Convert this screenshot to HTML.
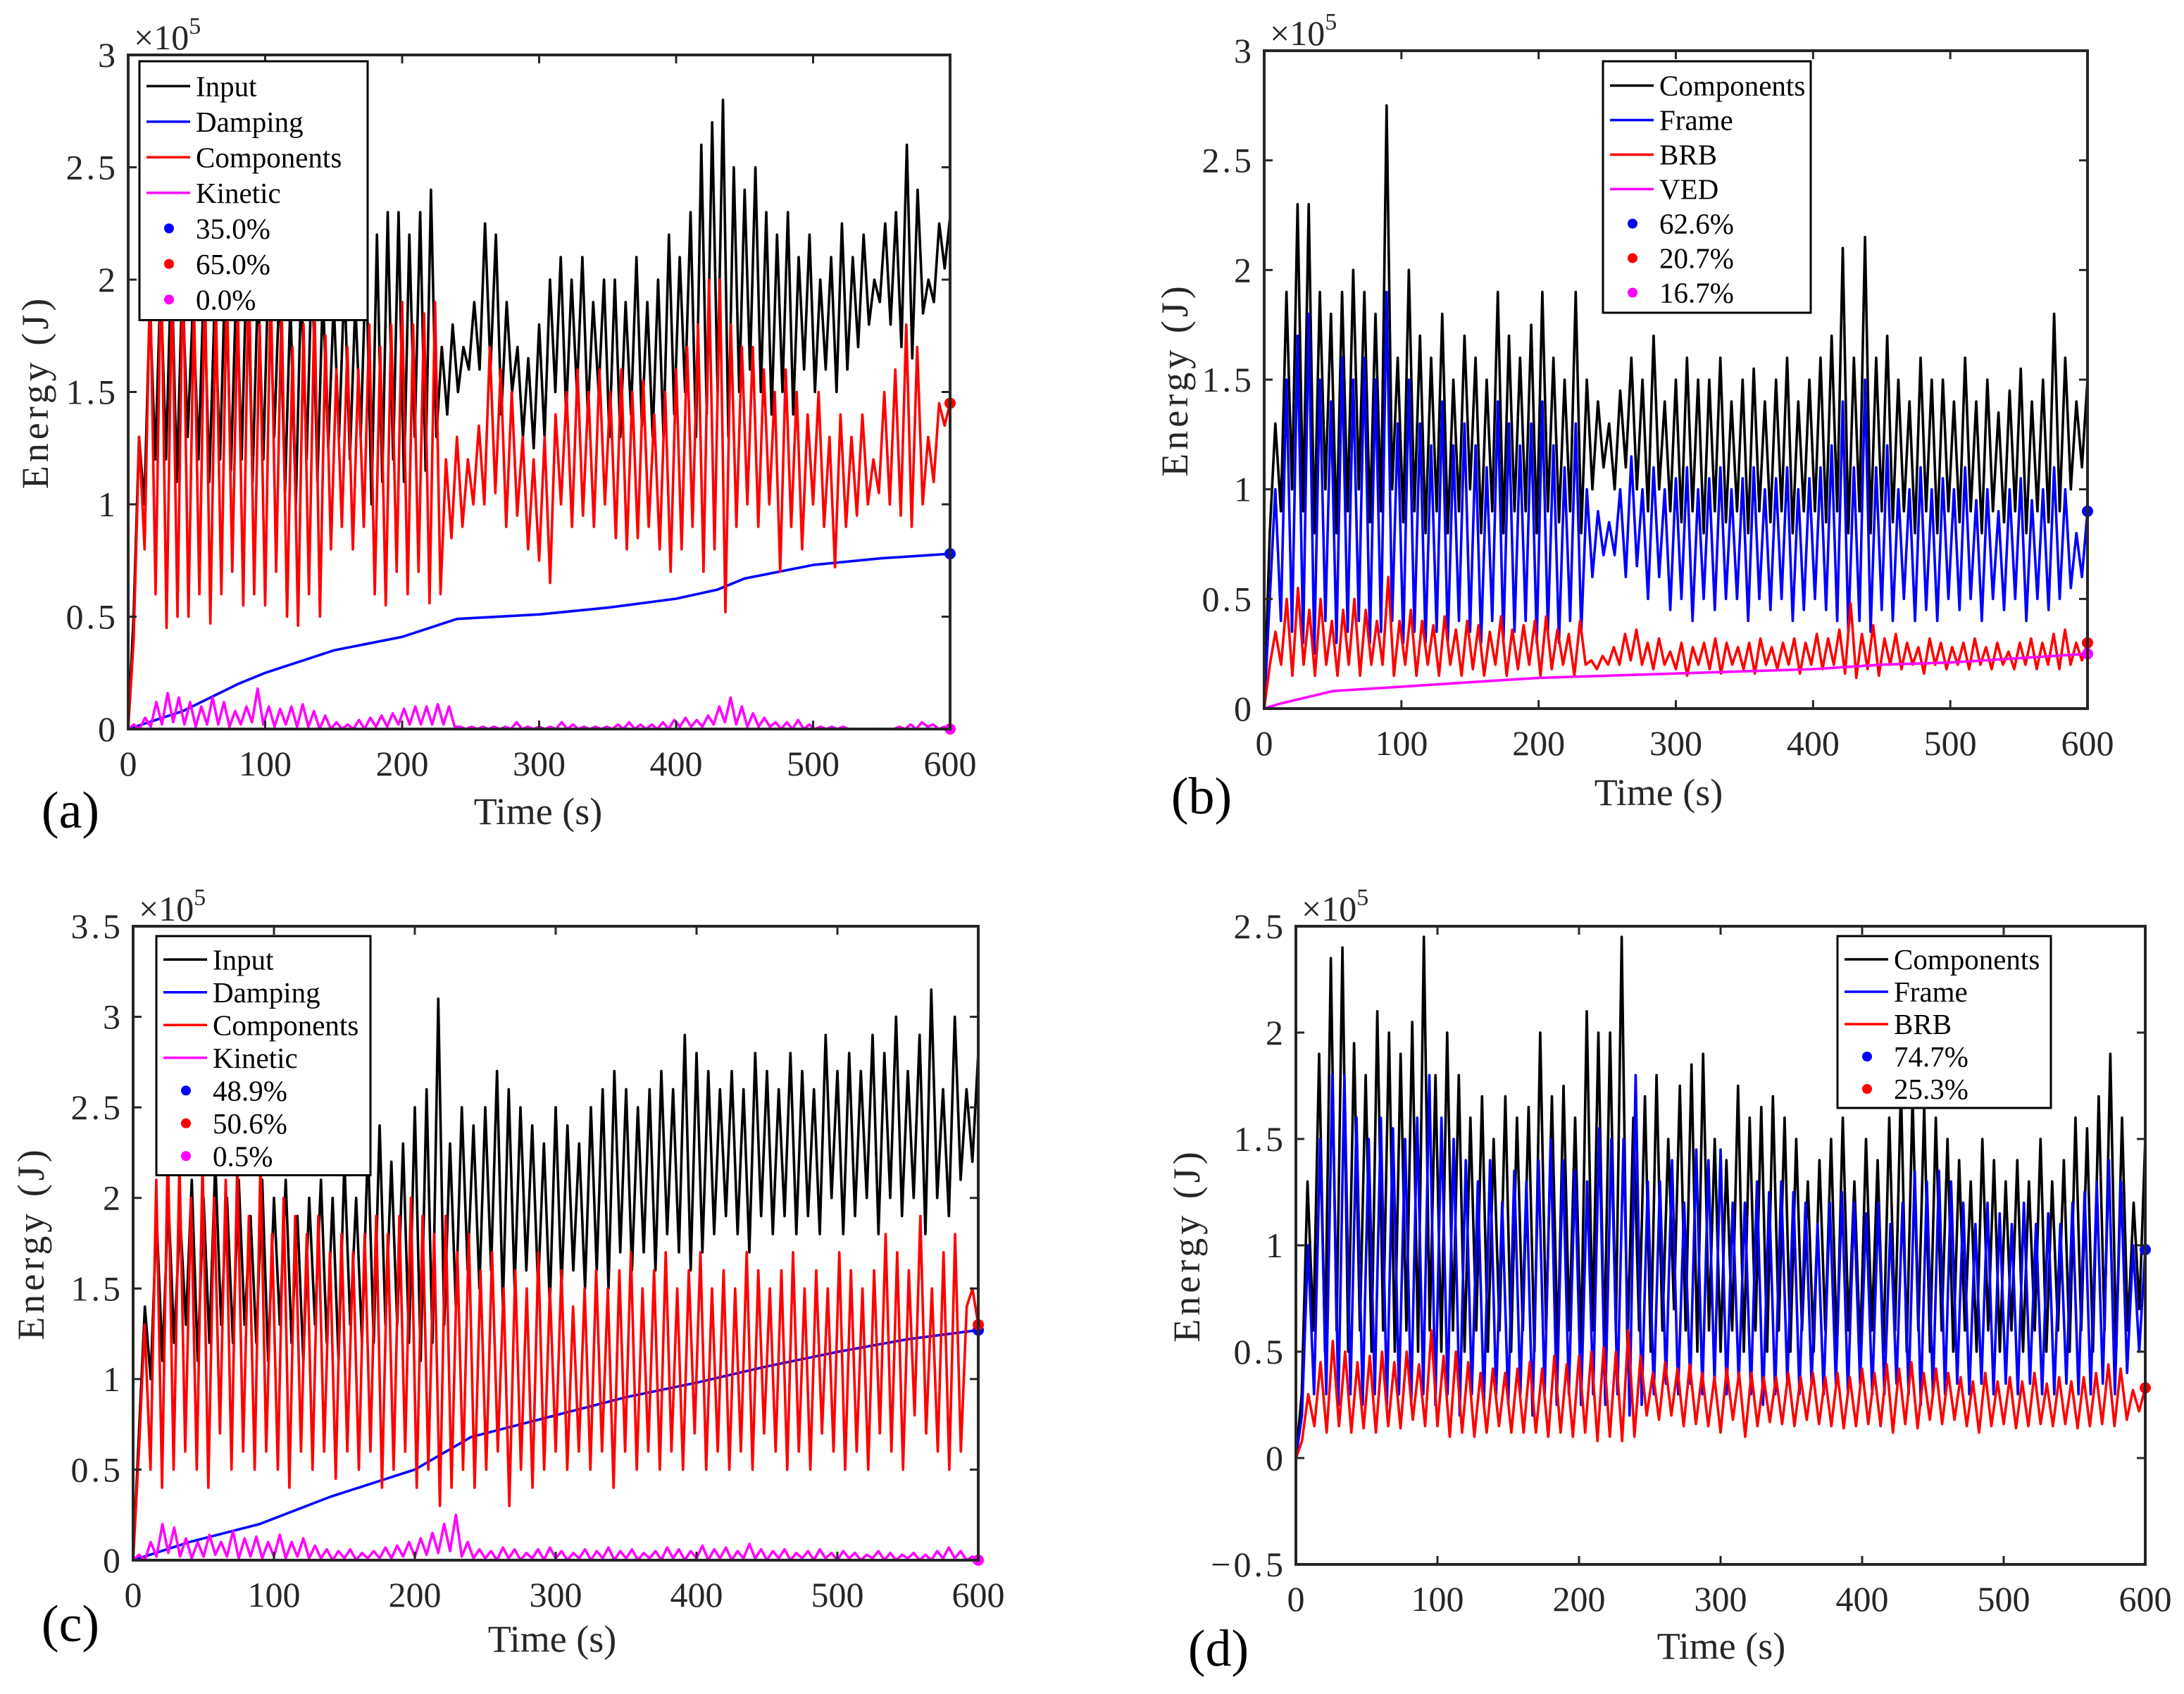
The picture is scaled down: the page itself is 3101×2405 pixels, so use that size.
<!DOCTYPE html>
<html><head><meta charset="utf-8"><style>
html,body{margin:0;padding:0;background:#fff;}
svg{display:block;font-family:"Liberation Serif","Noto Serif CJK SC",serif;}
</style></head><body>
<svg id="fig" width="3101" height="2405" viewBox="0 0 3101 2405" xmlns="http://www.w3.org/2000/svg"></svg>
<script>
// ---------- data (units: 1e5 J) ----------
const xTicks=[0,100,200,300,400,500,600];
const aYTicks=[0,0.5,1,1.5,2,2.5,3];
const bYTicks=[0,0.5,1,1.5,2,2.5,3];
const cYTicks=[0,0.5,1,1.5,2,2.5,3,3.5];
const dYTicks=[-0.5,0,0.5,1,1.5,2,2.5];

const aInput=[0,0.5,1.3,1.0,1.9,1.2,2.0,1.2,2.1,1.1,2.0,1.3,1.9,1.2,2.0,1.1,1.9,1.2,2.1,1.15,2.0,1.2,2.2,1.1,2.0,1.2,2.1,1.3,2.0,1.05,1.9,1.0,2.0,1.2,2.1,1.1,1.95,1.25,1.9,1.3,2.0,1.2,1.9,1.3,2.1,1.0,2.2,1.1,2.3,1.2,2.3,1.1,2.2,1.3,2.3,1.15,2.4,1.3,1.7,1.4,1.8,1.5,1.7,1.6,1.9,1.6,2.25,1.6,2.2,1.4,1.9,1.5,1.7,1.3,1.65,1.25,1.8,1.3,2.0,1.5,2.1,1.4,2.0,1.5,2.1,1.4,1.9,1.5,2.0,1.3,2.0,1.3,1.9,1.4,2.1,1.35,1.9,1.3,2.0,1.3,2.2,1.4,2.1,1.5,2.3,1.3,2.6,1.4,2.7,1.5,2.8,1.3,2.5,1.5,2.4,1.6,2.5,1.5,2.3,1.4,2.2,1.5,2.3,1.4,2.1,1.6,2.2,1.5,2.0,1.6,2.1,1.5,2.25,1.6,2.1,1.7,2.2,1.8,2.0,1.9,2.25,1.8,2.3,1.7,2.6,1.65,2.4,1.85,2.0,1.9,2.25,2.05,2.28];
const aComp=[0,0.4,1.3,0.8,2.0,0.6,2.1,0.45,2.0,0.5,2.1,0.5,1.9,0.6,2.0,0.47,1.9,0.6,2.0,0.7,1.9,0.55,2.1,0.6,1.8,0.55,2.0,0.7,1.9,0.5,1.7,0.46,1.8,0.6,1.9,0.5,1.75,0.8,1.6,0.9,1.7,0.8,1.6,0.9,1.8,0.6,1.7,0.55,1.8,0.7,1.9,0.6,1.8,0.7,1.85,0.56,1.9,0.6,1.2,0.85,1.3,0.9,1.2,1.0,1.35,1.0,1.7,1.05,1.6,0.9,1.5,0.95,1.3,0.8,1.2,0.75,1.3,0.65,1.4,1.0,1.5,0.9,1.6,0.95,1.5,0.9,1.6,1.0,1.5,0.85,1.6,0.8,1.5,0.85,1.55,0.9,1.4,0.8,1.5,0.7,1.6,0.8,1.7,0.9,1.8,0.7,2.0,0.8,2.0,0.52,1.8,0.9,1.7,1.0,1.7,0.9,1.6,1.0,1.5,0.7,1.6,0.9,1.5,0.8,1.4,1.0,1.5,0.9,1.3,0.72,1.4,0.9,1.3,0.95,1.4,1.0,1.2,1.05,1.5,1.0,1.6,0.95,1.8,0.9,1.7,1.0,1.3,1.1,1.45,1.35,1.45];
const aDampT=[0,40,80,100,150,200,240,300,350,400,430,450,500,550,600];
const aDamp=[0,0.08,0.2,0.25,0.35,0.41,0.49,0.51,0.54,0.58,0.62,0.67,0.73,0.76,0.78];
const aKin=[0,0.02,0,0.05,0.01,0.12,0.02,0.16,0.03,0.14,0.02,0.12,0.01,0.1,0.02,0.14,0.02,0.12,0.01,0.08,0.02,0.1,0.03,0.18,0.02,0.1,0.01,0.09,0.02,0.1,0.01,0.11,0.01,0.08,0,0.06,0,0.03,0,0.02,0,0.04,0,0.05,0.01,0.06,0.01,0.07,0.02,0.09,0.02,0.1,0.02,0.1,0.02,0.11,0.02,0.1,0.01,0.01,0,0.01,0,0.01,0,0.01,0,0.01,0,0.03,0,0.01,0,0.01,0,0.01,0,0.03,0,0.02,0,0.01,0,0.01,0,0.01,0,0.02,0,0.03,0,0.02,0,0.02,0,0.03,0,0.04,0.01,0.05,0.01,0.04,0.01,0.06,0.02,0.1,0.03,0.14,0.02,0.1,0.01,0.07,0.01,0.05,0.01,0.03,0,0.03,0,0.04,0,0.02,0,0.01,0,0.01,0,0.01,0,0,0,0,0,0,0,0,0,0.01,0,0.02,0,0.03,0.01,0.02,0,0.01,0];

const bComp=[0,0.8,1.3,0.9,1.9,1.0,2.3,0.9,2.3,0.8,1.9,1.0,1.8,0.8,1.9,0.9,2.0,1.0,1.9,0.85,1.8,0.9,2.75,1.0,1.6,0.85,2.0,0.9,1.7,0.8,1.6,0.9,1.8,0.8,1.5,0.9,1.7,1.0,1.6,0.8,1.5,0.9,1.9,0.8,1.7,0.9,1.6,0.9,1.75,0.8,1.9,0.9,1.6,0.85,1.5,0.9,1.9,0.8,1.5,1.0,1.4,1.1,1.3,1.0,1.45,1.1,1.6,1.0,1.5,0.9,1.7,1.0,1.4,0.9,1.5,0.85,1.6,0.9,1.5,0.8,1.5,0.9,1.6,0.85,1.4,0.9,1.5,0.8,1.55,0.9,1.4,0.85,1.5,0.9,1.6,0.8,1.4,0.9,1.5,0.9,1.6,0.85,1.7,0.9,2.1,0.8,1.6,0.9,2.15,0.8,1.6,0.9,1.7,0.85,1.5,0.9,1.4,0.8,1.6,0.9,1.5,0.8,1.5,0.9,1.4,0.85,1.6,0.9,1.4,0.8,1.5,0.9,1.35,0.85,1.45,0.9,1.55,0.8,1.4,0.9,1.5,0.85,1.8,0.9,1.6,1.0,1.4,1.1,1.5];
const bFrame=[0,0.5,1.0,0.4,1.5,0.35,1.7,0.3,1.8,0.25,1.5,0.4,1.4,0.3,1.6,0.35,1.5,0.4,1.6,0.3,1.5,0.35,1.9,0.4,1.3,0.3,1.5,0.35,1.3,0.3,1.2,0.35,1.4,0.3,1.2,0.4,1.3,0.35,1.2,0.3,1.1,0.4,1.4,0.3,1.3,0.35,1.2,0.4,1.3,0.3,1.4,0.35,1.2,0.3,1.1,0.4,1.3,0.35,1.0,0.6,0.9,0.7,0.85,0.7,1.0,0.6,1.15,0.65,1.0,0.5,1.1,0.6,1.0,0.45,1.05,0.5,1.1,0.4,1.0,0.5,1.05,0.45,1.1,0.5,1.0,0.5,1.05,0.4,1.1,0.5,1.0,0.45,1.05,0.5,1.1,0.4,1.0,0.45,1.05,0.5,1.1,0.45,1.2,0.4,1.4,0.35,1.1,0.4,1.5,0.35,1.1,0.45,1.2,0.4,1.0,0.5,1.0,0.4,1.1,0.45,1.0,0.4,1.05,0.5,1.0,0.45,1.1,0.5,0.95,0.4,1.0,0.5,0.9,0.45,1.0,0.5,1.05,0.4,0.95,0.5,1.0,0.45,1.1,0.5,1.0,0.55,0.8,0.6,0.9];
const bBrb=[0,0.2,0.35,0.2,0.5,0.15,0.55,0.2,0.45,0.15,0.5,0.2,0.4,0.15,0.45,0.2,0.5,0.15,0.45,0.2,0.4,0.2,0.6,0.15,0.4,0.2,0.45,0.15,0.4,0.2,0.38,0.15,0.42,0.2,0.36,0.15,0.4,0.18,0.38,0.15,0.35,0.2,0.42,0.15,0.36,0.18,0.38,0.2,0.4,0.15,0.42,0.18,0.36,0.2,0.34,0.15,0.4,0.2,0.22,0.18,0.24,0.2,0.28,0.2,0.34,0.22,0.36,0.2,0.3,0.18,0.32,0.2,0.26,0.18,0.3,0.15,0.28,0.2,0.3,0.18,0.32,0.16,0.3,0.2,0.28,0.18,0.3,0.16,0.32,0.2,0.28,0.18,0.3,0.2,0.32,0.16,0.3,0.2,0.34,0.18,0.32,0.2,0.36,0.16,0.48,0.14,0.34,0.18,0.38,0.15,0.32,0.2,0.34,0.18,0.3,0.2,0.28,0.16,0.32,0.2,0.3,0.18,0.28,0.2,0.3,0.18,0.32,0.2,0.28,0.18,0.3,0.2,0.26,0.18,0.3,0.2,0.32,0.18,0.3,0.2,0.34,0.18,0.36,0.2,0.3,0.22,0.3];
const bVedT=[0,10,50,100,150,200,250,300,350,400,450,500,550,600];
const bVed=[0,0.02,0.08,0.1,0.12,0.14,0.15,0.16,0.17,0.18,0.2,0.21,0.23,0.25];

const cInput=[0,0.7,1.4,1.0,1.9,1.1,2.0,1.2,1.9,1.3,2.1,1.1,2.0,1.2,2.2,1.3,2.0,1.2,2.1,1.3,1.9,1.2,2.1,1.1,2.0,1.3,2.1,1.2,1.9,1.1,2.0,1.3,2.1,1.2,2.0,1.1,2.2,1.3,2.0,1.2,2.3,1.2,2.4,1.3,2.2,1.3,2.3,1.2,2.5,1.1,2.6,1.2,3.1,1.3,2.3,1.4,2.5,1.6,2.4,1.5,2.5,1.6,2.7,1.4,2.6,1.5,2.5,1.6,2.4,1.5,2.3,1.4,2.5,1.5,2.4,1.6,2.3,1.5,2.5,1.6,2.6,1.5,2.7,1.7,2.6,1.6,2.5,1.7,2.6,1.6,2.7,1.8,2.6,1.7,2.9,1.6,2.8,1.7,2.7,1.8,2.6,1.9,2.7,1.8,2.6,1.7,2.8,1.9,2.7,1.8,2.6,1.9,2.8,1.8,2.7,1.9,2.6,1.8,2.9,2.0,2.7,1.8,2.8,1.9,2.7,2.0,2.9,1.8,2.8,2.0,3.0,1.9,2.7,2.0,2.9,1.8,3.15,2.0,2.6,1.9,3.0,2.1,2.6,2.2,2.8];
const cComp=[0,0.6,1.3,0.5,2.1,0.4,2.3,0.5,2.2,0.6,2.0,0.5,2.2,0.4,2.0,0.7,2.1,0.5,2.2,0.6,1.9,0.5,2.2,0.6,1.8,0.5,2.0,0.4,1.9,0.6,1.8,0.5,1.9,0.6,1.7,0.45,1.8,0.6,1.7,0.5,1.8,0.6,1.9,0.4,1.8,0.5,1.9,0.6,2.0,0.4,1.9,0.5,1.8,0.3,1.9,0.4,1.7,0.5,1.8,0.4,1.6,0.5,1.7,0.6,1.5,0.3,1.6,0.5,1.5,0.4,1.7,0.5,1.5,0.6,1.6,0.5,1.4,0.6,1.5,0.5,1.6,0.6,1.5,0.4,1.6,0.6,1.7,0.5,1.5,0.6,1.6,0.5,1.7,0.6,1.5,0.5,1.6,0.7,1.7,0.5,1.5,0.6,1.6,0.5,1.5,0.6,1.7,0.5,1.6,0.7,1.5,0.6,1.6,0.5,1.7,0.6,1.5,0.5,1.6,0.7,1.5,0.6,1.7,0.5,1.6,0.6,1.5,0.5,1.6,0.7,1.8,0.6,1.7,0.5,1.6,0.8,1.9,0.7,1.5,0.6,1.7,0.5,1.8,0.6,1.4,1.5,1.3];
const cDampT=[0,40,90,140,200,240,300,350,400,450,500,550,600];
const cDamp=[0,0.1,0.2,0.35,0.5,0.68,0.8,0.9,0.98,1.07,1.15,1.22,1.27];
const cKin=[0,0.03,0,0.1,0.02,0.2,0.04,0.18,0.02,0.12,0.01,0.1,0.02,0.14,0.03,0.1,0.02,0.16,0.01,0.12,0.02,0.13,0.01,0.1,0.02,0.14,0.01,0.1,0.02,0.12,0.01,0.08,0.01,0.06,0,0.05,0.01,0.06,0,0.04,0.01,0.05,0.01,0.07,0.01,0.08,0.02,0.1,0.02,0.12,0.03,0.15,0.04,0.2,0.05,0.25,0.02,0.1,0.01,0.06,0.01,0.05,0,0.07,0.01,0.06,0,0.04,0.01,0.06,0,0.07,0.01,0.05,0,0.04,0.01,0.06,0,0.05,0.01,0.07,0,0.05,0.01,0.06,0,0.04,0.01,0.05,0,0.07,0.01,0.06,0,0.05,0.01,0.08,0,0.06,0.01,0.07,0,0.05,0.01,0.09,0.01,0.06,0,0.05,0.01,0.06,0,0.04,0.01,0.05,0,0.06,0.01,0.04,0,0.05,0.01,0.04,0,0.03,0.01,0.05,0,0.04,0,0.03,0.01,0.04,0,0.03,0,0.05,0.01,0.07,0.01,0.05,0,0.02,0];

const dComp=[0,0.3,1.3,0.6,1.9,0.5,2.35,0.6,2.4,0.5,1.95,0.6,1.8,0.5,2.1,0.6,2.0,0.5,1.9,0.6,2.05,0.5,2.45,0.6,1.8,0.5,2.0,0.6,1.8,0.5,1.6,0.6,1.7,0.5,1.5,0.6,1.7,0.5,1.6,0.6,1.65,0.5,2.0,0.6,1.7,0.5,1.75,0.6,1.6,0.5,2.1,0.6,2.0,0.5,2.0,0.6,2.45,0.5,1.6,0.6,1.7,0.5,1.8,0.6,1.5,0.7,1.75,0.6,1.85,0.5,1.9,0.6,1.5,0.5,1.4,0.6,1.75,0.5,1.6,0.6,1.65,0.5,1.7,0.6,1.6,0.5,1.5,0.6,1.3,0.5,1.4,0.6,1.5,0.5,1.6,0.6,1.3,0.5,1.5,0.6,1.4,0.5,1.6,0.6,1.75,0.5,1.7,0.6,1.65,0.5,1.6,0.6,1.5,0.5,1.4,0.6,1.3,0.5,1.5,0.6,1.4,0.5,1.3,0.6,1.4,0.5,1.3,0.6,1.5,0.5,1.3,0.6,1.4,0.5,1.6,0.6,1.55,0.5,1.7,0.6,1.9,0.5,1.6,0.6,1.2,0.7,1.5];
const dFrame=[0,0.2,1.0,0.3,1.5,0.3,1.8,0.25,1.8,0.3,1.6,0.25,1.5,0.3,1.6,0.25,1.55,0.3,1.5,0.25,1.6,0.3,1.8,0.25,1.6,0.3,1.5,0.2,1.4,0.3,1.3,0.25,1.4,0.3,1.2,0.25,1.35,0.3,1.3,0.2,1.4,0.3,1.5,0.25,1.4,0.3,1.35,0.25,1.3,0.3,1.55,0.25,1.5,0.3,1.5,0.2,1.8,0.25,1.3,0.3,1.3,0.35,1.4,0.3,1.2,0.35,1.45,0.3,1.4,0.35,1.45,0.3,1.2,0.35,1.2,0.3,1.3,0.25,1.25,0.3,1.3,0.35,1.25,0.3,1.2,0.35,1.1,0.3,1.2,0.35,1.25,0.3,1.2,0.35,1.15,0.3,1.2,0.3,1.1,0.35,1.2,0.3,1.35,0.25,1.3,0.3,1.35,0.3,1.3,0.35,1.2,0.3,1.1,0.35,1.2,0.3,1.15,0.35,1.1,0.3,1.2,0.35,1.1,0.3,1.15,0.3,1.1,0.35,1.2,0.3,1.25,0.3,1.3,0.35,1.4,0.3,1.3,0.4,1.0,0.5,0.98];
const dBrb=[0,0.08,0.3,0.15,0.45,0.12,0.55,0.15,0.5,0.12,0.45,0.14,0.48,0.12,0.5,0.15,0.45,0.14,0.5,0.18,0.44,0.15,0.6,0.15,0.48,0.1,0.5,0.12,0.45,0.1,0.4,0.12,0.42,0.15,0.4,0.12,0.42,0.12,0.45,0.12,0.42,0.1,0.48,0.12,0.44,0.1,0.48,0.12,0.5,0.08,0.52,0.1,0.5,0.08,0.6,0.1,0.48,0.2,0.4,0.18,0.45,0.2,0.42,0.15,0.44,0.16,0.4,0.15,0.38,0.12,0.42,0.18,0.4,0.1,0.4,0.15,0.38,0.17,0.38,0.16,0.4,0.15,0.38,0.18,0.4,0.16,0.38,0.15,0.4,0.14,0.38,0.15,0.42,0.16,0.4,0.15,0.44,0.12,0.42,0.16,0.45,0.14,0.4,0.18,0.42,0.16,0.4,0.18,0.38,0.15,0.36,0.12,0.4,0.15,0.36,0.16,0.38,0.14,0.36,0.15,0.4,0.16,0.35,0.15,0.38,0.16,0.36,0.14,0.38,0.15,0.4,0.16,0.44,0.15,0.42,0.18,0.32,0.22,0.33];

const aPct=["35.0%","65.0%","0.0%"];
const bPct=["62.6%","20.7%","16.7%"];
const cPct=["48.9%","50.6%","0.5%"];
const dPct=["74.7%","25.3%"];

// ---------- drawing ----------
const NS="http://www.w3.org/2000/svg";
const svg=document.getElementById('fig');
function mk(tag,attrs,parent){const e=document.createElementNS(NS,tag);for(const k in attrs)e.setAttribute(k,attrs[k]);(parent||svg).appendChild(e);return e;}
const BLK="#000",BLU="#0000ff",RED="#ff0000",MAG="#ff00ff";

function panel(p){
  const g=mk('g',{});
  
  
  const sx=v=>p.L+(v-0)/600*(p.R-p.L);
  const sy=v=>p.B-(v-p.ymin)/(p.ymax-p.ymin)*(p.B-p.T);
  const clip=mk('clipPath',{id:'clip'+p.id},g);
  mk('rect',{x:p.L,y:p.T,width:p.R-p.L,height:p.B-p.T},clip);
  const plot=mk('g',{'clip-path':'url(#clip'+p.id+')'},g);
  p.series.forEach(s=>{
    const vals=s.v;const n=vals.length;
    let d='';
    vals.forEach((v,i)=>{const t=s.t?s.t[i]:i*600/(n-1);d+=(i?'L':'M')+sx(t).toFixed(1)+' '+sy(v).toFixed(1);});
    const path=mk('path',{d:d,fill:'none',stroke:s.c,'stroke-width':3.6,'stroke-linejoin':'round'},plot);
    
    
  });
  p.series.forEach(s=>{
    if(!s.dot)return;
    const last=s.v[s.v.length-1];
    const c=mk('circle',{cx:sx(600),cy:sy(last),r:8,fill:s.c},g);
    
    
  });
  const box=mk('rect',{x:p.L,y:p.T,width:p.R-p.L,height:p.B-p.T,fill:'none',stroke:'#262626','stroke-width':4},g);
  
  
  xTicks.forEach(v=>{
    const x=sx(v);
    mk('line',{x1:x,y1:p.B,x2:x,y2:p.B-12,stroke:'#262626','stroke-width':3},g);
    mk('line',{x1:x,y1:p.T,x2:x,y2:p.T+12,stroke:'#262626','stroke-width':3},g);
    const t=mk('text',{x:x,y:p.B+66,'text-anchor':'middle','font-size':50,fill:'#262626'},g);
    t.textContent=v;
    
    
  });
  p.yt.forEach(v=>{
    const y=sy(v);
    mk('line',{x1:p.L,y1:y,x2:p.L+12,y2:y,stroke:'#262626','stroke-width':3},g);
    mk('line',{x1:p.R,y1:y,x2:p.R-12,y2:y,stroke:'#262626','stroke-width':3},g);
    const t=mk('text',{x:p.L-14,y:y+17,'text-anchor':'end','font-size':50,fill:'#262626','letter-spacing':'4'},g);
    t.textContent=v<0?'\u2212'+String(-v):String(v);
    
    
  });
  const ex=mk('text',{x:p.L+8,y:p.T-8,'font-size':50,fill:'#262626'},g);
  ex.innerHTML='×10<tspan dy="-22" font-size="34">5</tspan>';
  
  
  const xl=mk('text',{x:p.xlx,y:p.xly,'text-anchor':'middle','font-size':54,fill:'#262626'},g);
  xl.textContent='Time (s)';
  
  
  const yc=(p.T+p.B)/2;
  const yl=mk('text',{x:p.ylx,y:yc,'text-anchor':'middle','font-size':54,fill:'#262626','letter-spacing':'5',transform:'rotate(-90 '+p.ylx+' '+yc+')'},g);
  yl.textContent='Energy (J)';
  
  
  const pl=mk('text',{x:p.plx,y:p.ply,'text-anchor':'middle','font-size':74,fill:'#000'},g);
  pl.textContent='('+p.id+')';
  
  
  const lg=mk('g',{},g);
  
  
  const rows=p.leg.length;
  mk('rect',{x:p.lx,y:p.ly,width:p.lw,height:rows*p.rh+14,fill:'#fff',stroke:'#000','stroke-width':3},lg);
  p.leg.forEach((e,i)=>{
    const cy=p.ly+10+p.rh*(i+0.5);
    if(e.dot){mk('circle',{cx:p.lx+42,cy:cy,r:7,fill:e.c},lg);}
    else{mk('line',{x1:p.lx+10,y1:cy,x2:p.lx+72,y2:cy,stroke:e.c,'stroke-width':3.5},lg);}
    const t=mk('text',{x:p.lx+80,y:cy+14,'font-size':41,fill:'#000'},lg);
    t.textContent=e.l;
    
    
  });
}

panel({id:'a',L:182,R:1349,T:78,B:1035,ymin:0,ymax:3,yt:aYTicks,
 xlx:764,xly:1170,ylx:68,plx:100,ply:1175,
 lx:198,ly:87,lw:324,rh:50.5,
 series:[{n:'input',v:aInput,c:BLK},{n:'damping',v:aDamp,t:aDampT,c:BLU,dot:1},{n:'components',v:aComp,c:RED,dot:1},{n:'kinetic',v:aKin,c:MAG,dot:1}],
 leg:[{l:'Input',c:BLK},{l:'Damping',c:BLU},{l:'Components',c:RED},{l:'Kinetic',c:MAG},{l:aPct[0],c:BLU,dot:1},{l:aPct[1],c:RED,dot:1},{l:aPct[2],c:MAG,dot:1}]});
panel({id:'b',L:1795,R:2964,T:72,B:1006,ymin:0,ymax:3,yt:bYTicks,
 xlx:2355,xly:1143,ylx:1686,plx:1706,ply:1155,
 lx:2276,ly:87,lw:295,rh:49,
 series:[{n:'components',v:bComp,c:BLK},{n:'frame',v:bFrame,c:BLU,dot:1},{n:'brb',v:bBrb,c:RED,dot:1},{n:'ved',v:bVed,t:bVedT,c:MAG,dot:1}],
 leg:[{l:'Components',c:BLK},{l:'Frame',c:BLU},{l:'BRB',c:RED},{l:'VED',c:MAG},{l:bPct[0],c:BLU,dot:1},{l:bPct[1],c:RED,dot:1},{l:bPct[2],c:MAG,dot:1}]});
panel({id:'c',L:189,R:1389,T:1315,B:2215,ymin:0,ymax:3.5,yt:cYTicks,
 xlx:784,xly:2345,ylx:62,plx:100,ply:2330,
 lx:222,ly:1329,lw:304,rh:46.5,
 series:[{n:'input',v:cInput,c:BLK},{n:'damping',v:cDamp,t:cDampT,c:BLU,dot:1},{n:'components',v:cComp,c:RED,dot:1},{n:'kinetic',v:cKin,c:MAG,dot:1}],
 leg:[{l:'Input',c:BLK},{l:'Damping',c:BLU},{l:'Components',c:RED},{l:'Kinetic',c:MAG},{l:cPct[0],c:BLU,dot:1},{l:cPct[1],c:RED,dot:1},{l:cPct[2],c:MAG,dot:1}]});
panel({id:'d',L:1840,R:3046,T:1315,B:2221,ymin:-0.5,ymax:2.5,yt:dYTicks,
 xlx:2444,xly:2355,ylx:1703,plx:1730,ply:2365,
 lx:2609,ly:1329,lw:303,rh:46,
 series:[{n:'components',v:dComp,c:BLK},{n:'frame',v:dFrame,c:BLU,dot:1},{n:'brb',v:dBrb,c:RED,dot:1}],
 leg:[{l:'Components',c:BLK},{l:'Frame',c:BLU},{l:'BRB',c:RED},{l:dPct[0],c:BLU,dot:1},{l:dPct[1],c:RED,dot:1}]});
</script>
</body></html>
